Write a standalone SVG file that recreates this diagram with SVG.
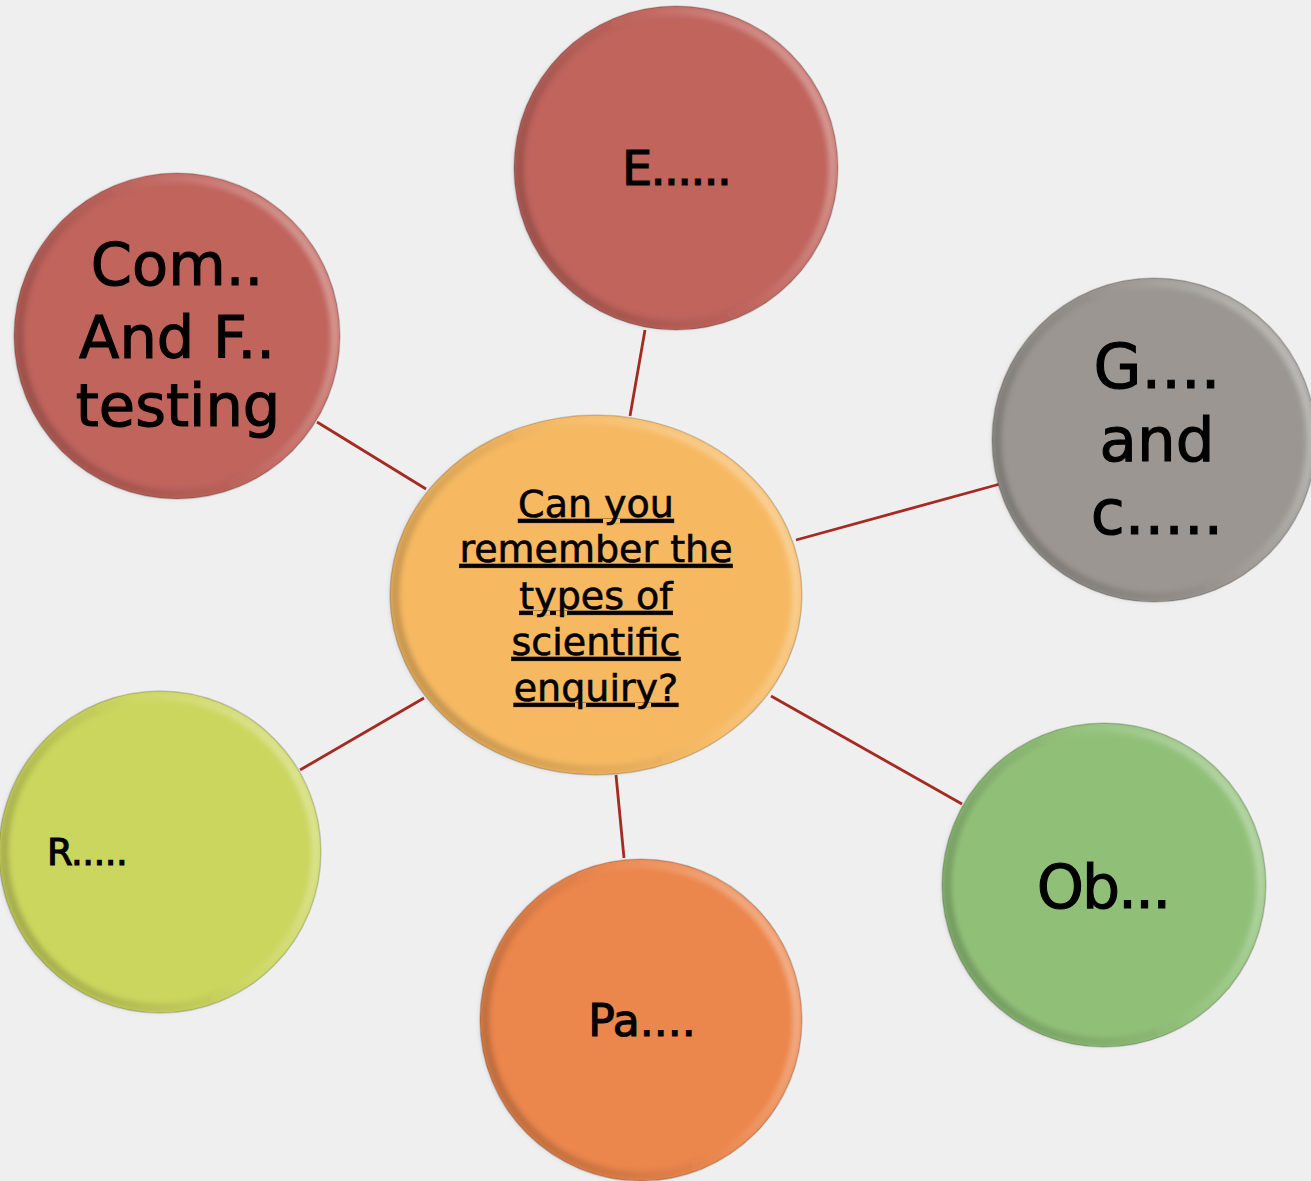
<svg xmlns="http://www.w3.org/2000/svg" width="1311" height="1181" viewBox="0 0 1311 1181">
<style>
.lbl{font-family:"DejaVu Sans","Liberation Sans",sans-serif;fill:#000;stroke:#000;stroke-width:1.1;text-anchor:middle}
.ctr{font-family:"DejaVu Sans","Liberation Sans",sans-serif;fill:#000;stroke:#000;stroke-width:0.6;text-anchor:middle;font-size:38px;text-decoration:underline}
.conn{stroke:#a42a22;stroke-width:2.8;fill:none}
.rim{fill:none;stroke:url(#rim);stroke-width:9;filter:url(#soft)}
.edge{fill:none;stroke:#000;stroke-opacity:0.16;stroke-width:1.5}
</style>
<defs>
<linearGradient id="rim" x1="0" y1="0.7" x2="1" y2="0.3">
<stop offset="0" stop-color="#000" stop-opacity="0.2"/>
<stop offset="0.45" stop-color="#000" stop-opacity="0.05"/>
<stop offset="0.6" stop-color="#fff" stop-opacity="0.05"/>
<stop offset="1" stop-color="#fff" stop-opacity="0.35"/>
</linearGradient>
<filter id="soft" x="-10%" y="-10%" width="120%" height="120%">
<feGaussianBlur stdDeviation="2.5"/>
</filter>
</defs>
<rect width="1311" height="1181" fill="#efefef"/>
<g id="connectors">
<line class="conn" x1="645" y1="330" x2="630" y2="416"/>
<line class="conn" x1="317" y1="422" x2="426" y2="489"/>
<line class="conn" x1="1000" y1="484" x2="796" y2="540"/>
<line class="conn" x1="300" y1="770" x2="424" y2="698"/>
<line class="conn" x1="616" y1="775" x2="624" y2="858"/>
<line class="conn" x1="771" y1="696" x2="962" y2="804"/>
</g>
<g id="node-center">
<ellipse cx="596" cy="595" rx="206" ry="180" fill="#f6b962"/>
<ellipse class="rim" cx="596" cy="595" rx="201" ry="175"/>
<ellipse class="edge" cx="596" cy="595" rx="206" ry="180"/>
<text class="ctr" x="596" y="517">Can you</text>
<text class="ctr" x="596" y="562">remember the</text>
<text class="ctr" x="596" y="609">types of</text>
<text class="ctr" x="596" y="655">scientific</text>
<text class="ctr" x="596" y="701">enquiry?</text>
</g>
<g id="node-e">
<circle cx="676" cy="168" r="162" fill="#c0645c"/>
<circle class="rim" cx="676" cy="168" r="157"/>
<circle class="edge" cx="676" cy="168" r="162"/>
<text class="lbl" x="676" y="185" font-size="48" letter-spacing="-2">E......</text>
</g>
<g id="node-com">
<circle cx="177" cy="336" r="163" fill="#c0645c"/>
<circle class="rim" cx="177" cy="336" r="158"/>
<circle class="edge" cx="177" cy="336" r="163"/>
<text class="lbl" x="177" y="285" font-size="59">Com..</text>
<text class="lbl" x="177" y="358" font-size="59">And F..</text>
<text class="lbl" x="178" y="426" font-size="59">testing</text>
</g>
<g id="node-g">
<circle cx="1154" cy="440" r="162" fill="#9b9691"/>
<circle class="rim" cx="1154" cy="440" r="157"/>
<circle class="edge" cx="1154" cy="440" r="162"/>
<text class="lbl" x="1157" y="388" font-size="62">G....</text>
<text class="lbl" x="1157" y="461" font-size="61">and</text>
<text class="lbl" x="1157" y="534" font-size="62">c.....</text>
</g>
<g id="node-r">
<circle cx="160" cy="852" r="161" fill="#cbd65e"/>
<circle class="rim" cx="160" cy="852" r="156"/>
<circle class="edge" cx="160" cy="852" r="161"/>
<text class="lbl" x="47" y="865" font-size="37" letter-spacing="-0.5" style="text-anchor:start">R.....</text>
</g>
<g id="node-pa">
<circle cx="641" cy="1020" r="161" fill="#eb864c"/>
<circle class="rim" cx="641" cy="1020" r="156"/>
<circle class="edge" cx="641" cy="1020" r="161"/>
<text class="lbl" x="642" y="1036" font-size="44">Pa....</text>
</g>
<g id="node-ob">
<circle cx="1104" cy="885" r="162" fill="#90c078"/>
<circle class="rim" cx="1104" cy="885" r="157"/>
<circle class="edge" cx="1104" cy="885" r="162"/>
<text class="lbl" x="1103" y="908" font-size="60" letter-spacing="-2">Ob...</text>
</g>
</svg>
